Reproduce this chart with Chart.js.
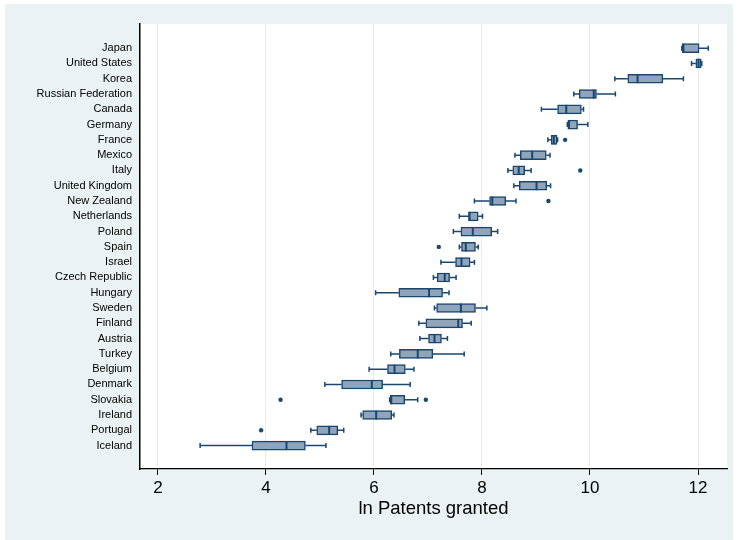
<!DOCTYPE html>
<html lang="en">
<head>
<meta charset="UTF-8">
<title>ln Patents granted</title>
<script src="https://cdn.jsdelivr.net/npm/chart.js@4.4.1/dist/chart.umd.min.js"></script>
<style>
  html, body { margin: 0; padding: 0; background: #fff; }
</style>
</head>
<body>
<canvas id="myChart" width="739" height="540"></canvas>
<script>
const countries = ["Japan", "United States", "Korea", "Russian Federation", "Canada", "Germany",
    "France", "Mexico", "Italy", "United Kingdom", "New Zealand", "Netherlands", "Poland", "Spain",
    "Israel", "Czech Republic", "Hungary", "Sweden", "Finland", "Austria", "Turkey", "Belgium",
    "Denmark", "Slovakia", "Ireland", "Portugal", "Iceland"];
const lowWhisker  = [11.70, 11.88, 10.46, 9.70, 9.10, 9.58, 9.22, 8.61, 8.48, 8.59, 7.86, 7.58, 7.47, 7.58,
    7.24, 7.10, 6.03, 7.12, 6.83, 6.85, 6.31, 5.91, 5.09, 6.29, 5.76, 4.83, 2.78];
const q1          = [11.71, 11.96, 10.70, 9.80, 9.40, 9.59, 9.28, 8.71, 8.57, 8.69, 8.14, 7.75, 7.61, 7.62,
    7.51, 7.17, 6.46, 7.16, 6.96, 7.01, 6.47, 6.25, 5.40, 6.30, 5.79, 4.94, 3.74];
const median      = [11.73, 12.01, 10.88, 10.07, 9.56, 9.61, 9.33, 8.93, 8.68, 9.01, 8.19, 7.77, 7.83, 7.70,
    7.62, 7.31, 7.02, 7.61, 7.56, 7.12, 6.81, 6.38, 5.96, 6.32, 6.04, 5.17, 4.38];
const q3          = [12.02, 12.06, 11.35, 10.12, 9.84, 9.77, 9.39, 9.19, 8.79, 9.20, 8.44, 7.93, 8.18, 7.88,
    7.78, 7.40, 7.27, 7.88, 7.64, 7.25, 7.09, 6.58, 6.16, 6.57, 6.33, 5.33, 4.73];
const highWhisker = [12.19, 12.07, 11.73, 10.47, 9.88, 9.96, 9.40, 9.26, 8.91, 9.27, 8.63, 8.01, 8.29, 7.93,
    7.86, 7.52, 7.39, 8.09, 7.80, 7.36, 7.67, 6.74, 6.67, 6.81, 6.37, 5.44, 5.11];
const outlierCountry = ["France", "Italy", "New Zealand", "Spain", "Slovakia", "Slovakia", "Portugal"];
const outlierValue   = [9.54, 9.82, 9.23, 7.20, 4.27, 6.96, 3.91];
const xTicks = [2, 4, 6, 8, 10, 12];

const navy = "#1a476f";
const boxFill = "#91a5ba";

Chart.defaults.font.family = "'Liberation Sans', Arial, sans-serif";
Chart.defaults.color = "#000";

// light frame around the graph, white plot region
const backdrop = {
    id: "backdrop",
    beforeDraw(chart) {
        const {ctx, chartArea: a} = chart;
        ctx.save();
        ctx.fillStyle = "#eaf2f3";
        ctx.fillRect(5, 4, 728, 536);
        ctx.fillStyle = "#fff";
        ctx.fillRect(a.left, a.top, a.right - a.left, a.bottom - a.top);
        ctx.restore();
    }
};

// whiskers, caps and median lines
const whiskers = {
    id: "whiskers",
    afterDatasetsDraw(chart) {
        const {ctx, scales: {x, y}} = chart;
        ctx.save();
        ctx.strokeStyle = navy;
        countries.forEach((c, i) => {
            const yc = y.getPixelForValue(i);
            const xl = x.getPixelForValue(lowWhisker[i]);
            const xa = x.getPixelForValue(q1[i]);
            const xm = x.getPixelForValue(median[i]);
            const xb = x.getPixelForValue(q3[i]);
            const xh = x.getPixelForValue(highWhisker[i]);
            ctx.lineWidth = 1.5;
            ctx.beginPath();
            ctx.moveTo(xl, yc); ctx.lineTo(xa, yc);
            ctx.moveTo(xb, yc); ctx.lineTo(xh, yc);
            ctx.moveTo(xl, yc - 2.5); ctx.lineTo(xl, yc + 2.5);
            ctx.moveTo(xh, yc - 2.5); ctx.lineTo(xh, yc + 2.5);
            ctx.stroke();
            ctx.lineWidth = 2;
            ctx.beginPath();
            ctx.moveTo(xm, yc - 4.5); ctx.lineTo(xm, yc + 4.5);
            ctx.stroke();
        });
        ctx.restore();
    }
};

const myChart = new Chart("myChart", {
    type: "bar",
    data: {
        datasets: [{
            type: "bar",
            data: countries.map((c, i) => ({x: [q1[i], q3[i]], y: i})),
            backgroundColor: boxFill,
            borderColor: navy,
            borderWidth: 1.5,
            borderSkipped: false,
            barThickness: 9
        }, {
            type: "scatter",
            data: outlierCountry.map((c, i) => ({x: outlierValue[i], y: countries.indexOf(c)})),
            backgroundColor: navy,
            borderColor: navy,
            pointRadius: 2.2,
            borderWidth: 0
        }]
    },
    options: {
        indexAxis: "y",
        responsive: false,
        animation: false,
        devicePixelRatio: 1,
        layout: {padding: {top: 24, right: 12, left: 0, bottom: 0}},
        plugins: {legend: {display: false}, tooltip: {enabled: false}},
        scales: {
            x: {
                type: "linear",
                min: 1.667,
                max: 12.537,
                afterBuildTicks: s => { s.ticks = xTicks.map(v => ({value: v})); },
                afterFit: s => { s.height = 71; },
                grid: {color: "#e4ecee", lineWidth: 1, tickColor: "#000", tickLength: 6},
                border: {color: "#000", width: 1.2},
                ticks: {font: {size: 17}, color: "#000", padding: 3},
                title: {display: true, text: "ln Patents granted", font: {size: 18.5}, color: "#000",
                    padding: {top: 0, bottom: 20}}
            },
            y: {
                type: "linear",
                reverse: true,
                offset: false,
                min: -1.58,
                max: 27.53,
                afterBuildTicks: s => { s.ticks = countries.map((c, i) => ({value: i})); },
                afterFit: s => { s.width = 140; },
                grid: {display: false, drawTicks: false, offset: false},
                border: {color: "#000", width: 1.5},
                ticks: {
                    font: {size: 11},
                    color: "#000",
                    padding: 8,
                    callback: v => countries[v]
                }
            }
        }
    },
    plugins: [backdrop, whiskers]
});
</script>
</body>
</html>
